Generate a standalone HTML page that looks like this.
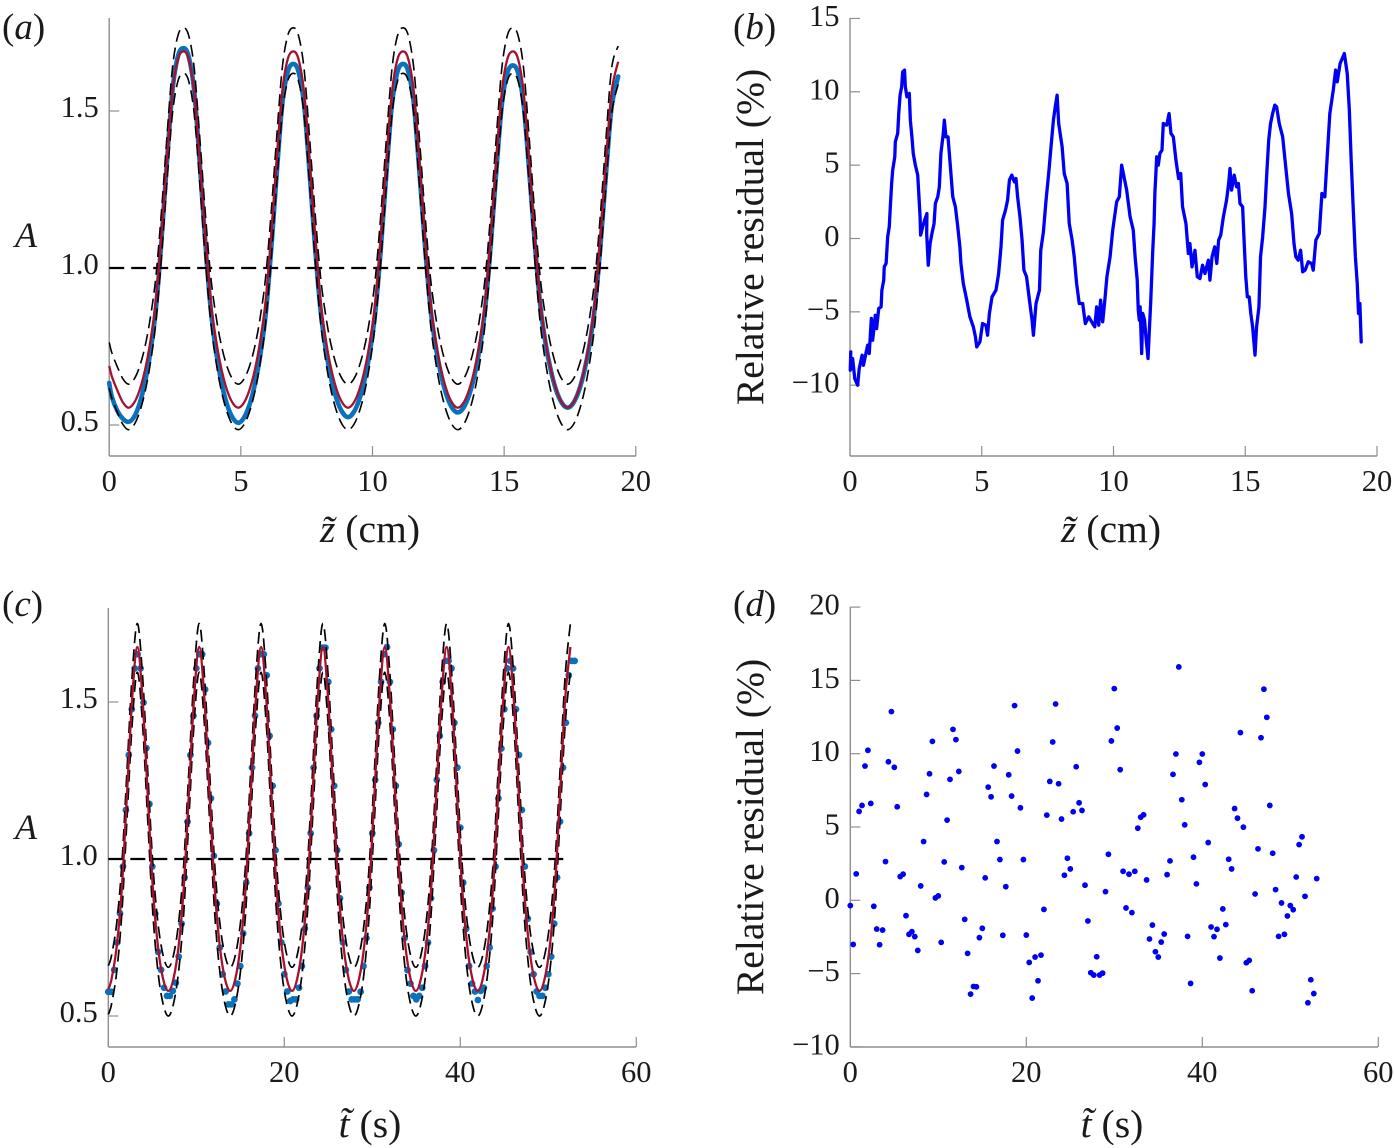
<!DOCTYPE html>
<html lang="en">
<head>
<meta charset="utf-8">
<title>Amplitude profiles and relative residuals</title>
<style>
html,body{margin:0;padding:0;background:#fff;width:1395px;height:1148px;overflow:hidden}
svg{display:block;font-family:"Liberation Serif","DejaVu Serif",serif;fill:#1a1a1a}
text{fill:#1a1a1a}
.tick{font-size:30.5px}
.title{font-size:39.6px}
.panel{font-size:37px}
.it{font-style:italic}
</style>
</head>
<body>
<svg id="figure" width="1395" height="1148" viewBox="0 0 1395 1148" xmlns="http://www.w3.org/2000/svg">
  <text class="panel" x="2" y="39">(<tspan class="it">a</tspan>)</text>
  <text class="panel" x="733" y="39">(<tspan class="it">b</tspan>)</text>
  <text class="panel" x="2" y="616">(<tspan class="it">c</tspan>)</text>
  <text class="panel" x="733" y="616">(<tspan class="it">d</tspan>)</text>
  <text class="title it" x="15" y="247" style="font-size:36px">A</text>
  <text class="title it" x="15" y="839" style="font-size:36px">A</text>
  <text class="title" x="370" y="542" text-anchor="middle"><tspan class="it">z̃</tspan> (cm)</text>
  <text class="title" x="1111" y="542" text-anchor="middle"><tspan class="it">z̃</tspan> (cm)</text>
  <text class="title" x="370" y="1137" text-anchor="middle"><tspan class="it">t̃</tspan> (s)</text>
  <text class="title" x="1112" y="1137" text-anchor="middle"><tspan class="it">t̃</tspan> (s)</text>
  <text class="title" transform="translate(763,237) rotate(-90)" text-anchor="middle">Relative residual (%)</text>
  <text class="title" transform="translate(763,827) rotate(-90)" text-anchor="middle">Relative residual (%)</text>
</svg>
<script>
const aXTicks=[0,5,10,15,20];
const aYTicks=[0.5,1.0,1.5];
const bXTicks=[0,5,10,15,20];
const bYTicks=[-10,-5,0,5,10,15];
const cXTicks=[0,20,40,60];
const cYTicks=[0.5,1.0,1.5];
const dXTicks=[0,20,40,60];
const dYTicks=[-10,-5,0,5,10,15,20];

const aZ=[0,.10,.31,.52,.73,.94,1.15,1.36,1.56,1.77,1.98,2.19,2.40,2.61,2.82,3.02,3.23,3.44,3.65,3.86,4.07,4.27,4.48,4.69,4.90,5.11,5.32,5.53,5.73,5.94,6.15,6.36,6.57,6.78,6.99,7.19,7.40,7.61,7.82,8.03,8.24,8.44,8.65,8.86,9.07,9.28,9.49,9.70,9.90,10.11,10.32,10.53,10.74,10.95,11.16,11.36,11.57,11.78,11.99,12.20,12.41,12.61,12.82,13.03,13.24,13.45,13.66,13.87,14.07,14.28,14.49,14.70,14.91,15.12,15.33,15.53,15.74,15.95,16.16,16.37,16.58,16.78,16.99,17.20,17.41,17.62,17.83,18.04,18.24,18.45,18.66,18.87,19.08,19.33];
const aFit=[.688,.655,.61,.572,
.555,.57,.61,.675,.765,.895,1.10,1.34,1.56,1.665,1.69,1.665,1.56,1.34,1.10,.895,.765,.675,.61,.57,
.555,.57,.61,.675,.765,.895,1.10,1.34,1.56,1.665,1.69,1.665,1.56,1.34,1.10,.895,.765,.675,.61,.57,
.555,.57,.61,.675,.765,.895,1.10,1.34,1.56,1.665,1.69,1.665,1.56,1.34,1.10,.895,.765,.675,.61,.57,
.555,.57,.61,.675,.765,.895,1.10,1.34,1.56,1.665,1.69,1.665,1.56,1.34,1.10,.895,.765,.675,.61,.57,
.555,.57,.61,.675,.765,.895,1.10,1.34,1.56,1.657];
const aUpper=[.763,.73,.685,.647,
.63,.645,.685,.75,.84,.97,1.175,1.415,1.635,1.74,1.765,1.74,1.635,1.415,1.175,.97,.84,.75,.685,.645,
.63,.645,.685,.75,.84,.97,1.175,1.415,1.635,1.74,1.765,1.74,1.635,1.415,1.175,.97,.84,.75,.685,.645,
.63,.645,.685,.75,.84,.97,1.175,1.415,1.635,1.74,1.765,1.74,1.635,1.415,1.175,.97,.84,.75,.685,.645,
.63,.645,.685,.75,.84,.97,1.175,1.415,1.635,1.74,1.765,1.74,1.635,1.415,1.175,.97,.84,.75,.685,.645,
.63,.645,.685,.75,.84,.97,1.175,1.415,1.635,1.707];
const aLower=[.618,.585,.54,.502,
.485,.50,.54,.605,.695,.825,1.03,1.27,1.49,1.595,1.62,1.595,1.49,1.27,1.03,.825,.695,.605,.54,.50,
.485,.50,.54,.605,.695,.825,1.03,1.27,1.49,1.595,1.62,1.595,1.49,1.27,1.03,.825,.695,.605,.54,.50,
.485,.50,.54,.605,.695,.825,1.03,1.27,1.49,1.595,1.62,1.595,1.49,1.27,1.03,.825,.695,.605,.54,.50,
.485,.50,.54,.605,.695,.825,1.03,1.27,1.49,1.595,1.62,1.595,1.49,1.27,1.03,.825,.695,.605,.54,.50,
.485,.50,.54,.605,.695,.825,1.03,1.27,1.49,1.585];
const aMeasured=[.634,.59,.545,.52,
.51,.525,.567,.636,.73,.867,1.081,1.333,1.563,1.674,1.70,1.673,1.563,1.333,1.08,.865,.728,.633,.564,.523,
.507,.522,.562,.628,.718,.85,1.056,1.298,1.519,1.625,1.65,1.625,1.521,1.304,1.065,.863,.733,.644,.579,.54,
.525,.54,.579,.644,.733,.863,1.065,1.304,1.521,1.625,1.65,1.625,1.522,1.308,1.073,.873,.745,.658,.593,.554,
.54,.554,.593,.657,.744,.872,1.072,1.305,1.518,1.621,1.645,1.621,1.52,1.31,1.082,.882,.757,.671,.607,.569,
.555,.569,.607,.67,.755,.879,1.073,1.302,1.511,1.61];

const bZ=[.03,.01,.10,.18,.29,.35,.46,.51,.67,.73,.81,.86,.96,1.01,1.09,1.18,1.21,1.28,1.30,1.37,1.43,1.49,1.53,1.58,1.62,1.70,1.72,1.81,1.85,1.90,1.96,2.00,2.07,2.10,2.16,2.25,2.29,2.35,2.40,2.48,2.57,2.61,2.66,2.68,2.76,2.83,2.92,2.91,2.97,3.04,3.11,3.19,3.24,3.33,3.39,3.45,3.54,3.58,3.64,3.72,3.80,3.90,4.00,4.09,4.17,4.21,4.30,4.43,4.55,4.68,4.76,4.81,4.93,5.03,5.16,5.22,5.29,5.39,5.54,5.64,5.73,5.79,5.90,5.98,6.05,6.14,6.24,6.30,6.36,6.45,6.53,6.60,6.70,6.81,6.91,6.96,7.06,7.19,7.24,7.34,7.44,7.54,7.64,7.72,7.79,7.86,7.92,8.05,8.13,8.24,8.32,8.43,8.51,8.60,8.70,8.83,8.93,9.06,9.21,9.29,9.36,9.44,9.51,9.59,9.66,9.75,9.87,9.97,10.12,10.22,10.31,10.40,10.50,10.63,10.75,10.82,10.90,10.94,10.98,11.01,11.07,11.11,11.18,11.23,11.31,11.36,11.41,11.47,11.49,11.54,11.57,11.64,11.70,11.76,11.84,11.89,12.02,12.11,12.18,12.27,12.37,12.47,12.55,12.62,12.75,12.84,12.90,12.98,13.09,13.18,13.28,13.38,13.47,13.60,13.66,13.74,13.84,13.92,13.99,14.07,14.17,14.29,14.37,14.42,14.48,14.58,14.67,14.74,14.80,14.90,14.95,15.02,15.08,15.15,15.21,15.28,15.37,15.43,15.52,15.58,15.66,15.75,15.81,15.89,15.96,16.04,16.12,16.19,16.29,16.42,16.51,16.64,16.76,16.85,16.92,17.01,17.10,17.18,17.27,17.39,17.52,17.58,17.68,17.81,17.91,18.02,18.11,18.21,18.34,18.43,18.49,18.60,18.76,18.87,18.95,19.02,19.10,19.18,19.25,19.30,19.35,19.40];
const bResidual=[-7.73,-8.98,-8.18,-9.55,-10.0,-8.86,-7.95,-8.64,-7.27,-7.84,-5.45,-6.93,-5.23,-6.14,-4.77,-4.66,-3.52,-2.84,-1.93,-1.70,.11,.80,2.16,3.75,4.66,5.57,6.59,7.16,8.52,9.77,10.34,11.36,11.48,10.34,9.66,9.89,8.07,6.93,5.80,5.00,4.32,3.07,1.48,.23,.80,1.25,1.70,.34,-1.82,-.34,.34,1.02,2.39,2.84,3.52,5.80,7.16,8.07,6.93,6.93,5.11,2.84,2.16,.80,-.57,-1.70,-3.07,-4.20,-5.34,-6.02,-6.70,-7.39,-7.05,-5.80,-5.91,-6.59,-5.11,-3.98,-3.52,-2.39,-.57,1.25,1.93,2.61,3.98,4.32,3.86,4.09,2.84,1.48,-.11,-2.16,-2.61,-4.20,-5.57,-6.59,-4.43,-3.52,-.80,.45,2.61,4.43,6.48,8.07,8.98,9.77,7.84,6.25,4.43,3.75,1.02,-.11,-1.25,-3.07,-4.43,-4.43,-5.80,-5.34,-5.80,-6.02,-4.66,-5.91,-4.20,-5.68,-4.43,-2.61,-1.25,.57,2.50,2.84,5.00,4.20,3.30,1.48,.57,-1.25,-2.84,-4.89,-5.57,-4.66,-7.84,-5.11,-5.57,-6.70,-8.18,-6.25,-4.43,-1.70,-.80,1.02,3.07,5.57,5.00,5.80,6.02,7.84,7.73,8.52,7.16,6.93,5.34,4.09,4.43,2.16,1.02,-1.02,-.34,-1.93,-.80,-2.61,-2.73,-1.82,-2.39,-1.48,-2.84,-1.25,-.57,-1.70,-.11,.23,1.48,2.61,3.75,4.77,3.30,4.32,3.52,3.75,2.39,2.16,.11,-2.61,-3.98,-3.98,-5.11,-6.02,-7.95,-6.02,-4.66,-1.25,.11,2.16,4.20,6.70,7.84,8.52,9.09,8.98,7.84,6.93,5.34,3.07,1.70,-.34,-1.25,-1.48,-.80,-2.27,-2.16,-1.59,-1.70,-2.16,-.11,.34,3.07,2.84,5.57,8.52,10.11,11.48,10.68,11.93,12.61,11.25,8.75,5.34,1.93,-1.25,-3.07,-5.11,-4.43,-7.05];

const cCurveT=[0,.37,.96,1.54,2.13,2.71,3.30,3.89,4.47,5.06,5.64,6.23,6.82,7.40,7.99,8.57,9.16,9.74,10.33,10.92,11.50,12.09,12.67,13.26,13.85,14.43,15.02,15.60,16.19,16.77,17.36,17.95,18.53,19.12,19.70,20.29,20.88,21.46,22.05,22.63,23.22,23.80,24.39,24.98,25.56,26.15,26.73,27.32,27.91,28.49,29.08,29.66,30.25,30.83,31.42,32.01,32.59,33.18,33.76,34.35,34.94,35.52,36.11,36.69,37.28,37.86,38.45,39.04,39.62,40.21,40.79,41.38,41.97,42.55,43.14,43.72,44.31,44.89,45.48,46.07,46.65,47.24,47.82,48.41,49.00,49.58,50.17,50.75,51.34,51.92,52.51];
const cFit=[.585,.618,.722,.908,1.21,1.51,1.675,1.51,1.21,.908,.722,.618,
.58,.618,.722,.908,1.21,1.51,1.675,1.51,1.21,.908,.722,.618,
.58,.618,.722,.908,1.21,1.51,1.675,1.51,1.21,.908,.722,.618,
.58,.618,.722,.908,1.21,1.51,1.675,1.51,1.21,.908,.722,.618,
.58,.618,.722,.908,1.21,1.51,1.675,1.51,1.21,.908,.722,.618,
.58,.618,.722,.908,1.21,1.51,1.675,1.51,1.21,.908,.722,.618,
.58,.618,.722,.908,1.21,1.51,1.675,1.51,1.21,.908,.722,.618,
.58,.618,.722,.908,1.21,1.51,1.675];
const cUpper=[.66,.693,.797,.983,1.285,1.585,1.75,1.585,1.285,.983,.797,.693,
.655,.693,.797,.983,1.285,1.585,1.75,1.585,1.285,.983,.797,.693,
.655,.693,.797,.983,1.285,1.585,1.75,1.585,1.285,.983,.797,.693,
.655,.693,.797,.983,1.285,1.585,1.75,1.585,1.285,.983,.797,.693,
.655,.693,.797,.983,1.285,1.585,1.75,1.585,1.285,.983,.797,.693,
.655,.693,.797,.983,1.285,1.585,1.75,1.585,1.285,.983,.797,.693,
.655,.693,.797,.983,1.285,1.585,1.75,1.585,1.285,.983,.797,.693,
.655,.693,.797,.983,1.285,1.585,1.75];
const cLower=[.505,.538,.642,.828,1.13,1.43,1.595,1.43,1.13,.828,.642,.538,
.50,.538,.642,.828,1.13,1.43,1.595,1.43,1.13,.828,.642,.538,
.50,.538,.642,.828,1.13,1.43,1.595,1.43,1.13,.828,.642,.538,
.50,.538,.642,.828,1.13,1.43,1.595,1.43,1.13,.828,.642,.538,
.50,.538,.642,.828,1.13,1.43,1.595,1.43,1.13,.828,.642,.538,
.50,.538,.642,.828,1.13,1.43,1.595,1.43,1.13,.828,.642,.538,
.50,.538,.642,.828,1.13,1.43,1.595,1.43,1.13,.828,.642,.538,
.50,.538,.642,.828,1.13,1.43,1.595];

const sampleTimes=[0,.33,.67,1,1.33,1.67,2,2.33,2.67,3,3.33,3.67,4,4.33,4.67,5,5.33,5.67,6,6.33,6.67,7,7.33,7.67,8,8.33,8.67,9,9.33,9.67,10,10.33,10.67,11,11.33,11.67,12,12.33,12.67,13,13.33,13.67,14,14.33,14.67,15,15.33,15.67,16,16.33,16.67,17,17.33,17.67,18,18.33,18.67,19,19.33,19.67,20,20.33,20.67,21,21.33,21.67,22,22.33,22.67,23,23.33,23.67,24,24.33,24.67,25,25.33,25.67,26,26.33,26.67,27,27.33,27.67,28,28.33,28.67,29,29.33,29.67,30,30.33,30.67,31,31.33,31.67,32,32.33,32.67,33,33.33,33.67,34,34.33,34.67,35,35.33,35.67,36,36.33,36.67,37,37.33,37.67,38,38.33,38.67,39,39.33,39.67,40,40.33,40.67,41,41.33,41.67,42,42.33,42.67,43,43.33,43.67,44,44.33,44.67,45,45.33,45.67,46,46.33,46.67,47,47.33,47.67,48,48.33,48.67,49,49.33,49.67,50,50.33,50.67,51,51.33,51.67,52,52.33,52.67,53];
const cMeasured=[.577,.577,.647,.734,.827,.976,1.156,1.331,1.477,1.607,1.652,1.607,1.498,1.353,1.175,.976,.826,.704,.647,.590,.564,.564,.580,.606,.689,.794,.941,1.119,1.331,1.456,1.607,1.652,1.652,1.540,1.370,1.193,1.010,.858,.718,.633,.578,.537,.537,.553,.603,.659,.763,.925,1.082,1.291,1.456,1.607,1.652,1.652,1.585,1.392,1.233,1.028,.858,.734,.633,.578,.548,.553,.553,.590,.659,.778,.909,1.082,1.291,1.456,1.607,1.673,1.673,1.564,1.413,1.233,1.028,.875,.734,.647,.578,.553,.553,.553,.577,.659,.748,.909,1.082,1.252,1.434,1.564,1.652,1.675,1.564,1.413,1.233,1.047,.893,.748,.646,.603,.564,.553,.564,.590,.659,.734,.875,1.028,1.252,1.392,1.564,1.631,1.631,1.607,1.434,1.291,1.100,.925,.778,.659,.603,.578,.551,.580,.590,.659,.718,.842,.976,1.193,1.352,1.477,1.607,1.631,1.607,1.477,1.331,1.156,.976,.810,.704,.633,.578,.564,.564,.590,.633,.689,.794,.941,1.119,1.291,1.434,1.585,1.631,1.631];
const dResidual=[-.36,-3.01,1.80,6.06,6.47,9.16,10.23,6.61,-.41,-1.96,-3.03,-2.03,2.64,9.45,12.87,9.07,6.38,1.62,1.78,-1.05,-2.32,-2.14,-2.48,-3.42,.98,4.01,7.22,8.63,10.84,.16,.30,-2.87,2.62,5.47,8.25,11.66,10.96,8.79,2.23,-1.30,-3.62,-6.40,-5.88,-5.90,-2.55,-1.91,1.53,7.72,7.06,9.16,4.01,2.78,-2.39,.93,8.56,7.11,13.28,10.18,6.31,2.78,-2.37,-4.24,-6.67,-3.87,-5.49,-3.74,-.62,5.81,8.11,10.80,13.39,7.95,5.54,1.71,2.87,2.14,6.04,9.11,6.65,6.13,1.03,-1.41,-4.94,-5.10,-3.85,-5.10,-4.97,.59,3.14,10.87,14.44,11.75,8.91,1.98,-.52,1.78,-.84,1.98,4.92,5.67,5.83,1.39,-2.64,-1.69,-3.51,-3.87,-2.85,-2.30,1.75,2.69,8.59,9.98,15.92,6.86,5.15,-2.46,-5.67,2.94,1.12,9.41,9.98,7.90,3.94,-1.82,-2.48,-1.98,-3.94,-.59,-1.66,2.80,2.14,6.26,5.60,11.44,4.99,-4.26,-4.10,-6.17,.43,3.51,11.09,14.40,12.48,6.47,3.21,.73,-2.46,-.18,-2.32,-1.07,-.36,-.64,1.59,3.80,4.33,.27,-6.99,-5.42,-6.36,1.48];

const NS='http://www.w3.org/2000/svg';
const root=document.getElementById('figure');
const AXIS='#8e8e8e', BLUE='#0a72bd', RED='#a5122f', PURE='#0000f5';

const aX=v=>109.2+26.33*v, aY=v=>425-314*(v-0.5);
const bX=v=>850+26.35*v, bY=v=>238.5-14.67*v;
const cX=v=>108.3+8.8*v, cY=v=>1016-314*(v-0.5);
const dX=v=>850.3+8.8*v, dY=v=>900.3-14.66*v;

function make(tag,parent,attrs){
  const e=document.createElementNS(NS,tag);
  for(const k in attrs)e.setAttribute(k,attrs[k]);
  parent.appendChild(e);
  return e;
}
function smooth(xs,ys,sx,sy){
  const p=xs.map((x,i)=>[sx(x),sy(ys[i])]);
  let d='M'+p[0][0].toFixed(2)+' '+p[0][1].toFixed(2);
  for(let i=0;i<p.length-1;i++){
    const a=p[Math.max(i-1,0)],b=p[i],c=p[i+1],e=p[Math.min(i+2,p.length-1)];
    d+='C'+(b[0]+(c[0]-a[0])/6).toFixed(2)+' '+(b[1]+(c[1]-a[1])/6).toFixed(2)+' '+(c[0]-(e[0]-b[0])/6).toFixed(2)+' '+(c[1]-(e[1]-b[1])/6).toFixed(2)+' '+c[0].toFixed(2)+' '+c[1].toFixed(2);
  }
  return d;
}
function label(v,dec){
  const s=dec?v.toFixed(1):String(Math.abs(v));
  return (v<0?'\u2212':'')+s;
}
function axes(id,sx,sy,xTicks,yTicks,x0,yTop,yBottom,xEnd,dec,xBase){
  const g=make('g',root,{});
  
  
  const yLine=make('line',g,{x1:x0,x2:x0,y1:yTop,y2:yBottom,stroke:AXIS,'stroke-width':1.4});
  
  
  const xLine=make('line',g,{x1:x0,x2:xEnd,y1:yBottom,y2:yBottom,stroke:AXIS,'stroke-width':1.4});
  
  
  xTicks.forEach(v=>{
    const px=sx(v);
    if(v!==0){
      const t=make('line',g,{x1:px,x2:px,y1:yBottom,y2:yBottom-10,stroke:AXIS,'stroke-width':1.2});
      
      
    }
    const l=make('text',g,{x:px,y:xBase,'text-anchor':'middle','class':'tick'});
    
    
    l.textContent=label(v,false);
  });
  yTicks.forEach(v=>{
    const py=sy(v);
    const t=make('line',g,{x1:x0,x2:x0+10,y1:py,y2:py,stroke:AXIS,'stroke-width':1.2});
    
    
    const l=make('text',g,{x:x0-10.5,y:py+(dec?6:7.5),'text-anchor':'end','class':'tick'});
    
    
    l.textContent=label(v,dec);
  });
}
function curve(xs,ys,sx,sy,attrs){
  return make('path',root,Object.assign({d:smooth(xs,ys,sx,sy),fill:'none','stroke-linejoin':'round'},attrs));
}

axes('a',aX,aY,aXTicks,aYTicks,109.2,18,456,636,true,491);
axes('b',bX,bY,bXTicks,bYTicks,850,18,456,1377,false,491);
axes('c',cX,cY,cXTicks,cYTicks,108.3,608,1047,636,true,1082);
axes('d',dX,dY,dXTicks,dYTicks,850.3,607,1047,1378,false,1082);

const aBlue=curve(aZ,aMeasured,aX,aY,{stroke:BLUE,'stroke-width':4.6,'stroke-linecap':'round'});


const aUp=curve(aZ,aUpper,aX,aY,{stroke:'#000','stroke-width':1.6,'stroke-dasharray':'12 6'});


const aLow=curve(aZ,aLower,aX,aY,{stroke:'#000','stroke-width':1.6,'stroke-dasharray':'12 6'});


const aRef=make('line',root,{x1:aX(0),x2:aX(19.15),y1:aY(1),y2:aY(1),stroke:'#000','stroke-width':2.2,'stroke-dasharray':'15 7'});


const aRed=curve(aZ,aFit,aX,aY,{stroke:RED,'stroke-width':2.3});



const bTrace=make('path',root,{d:'M'+bZ.map((z,i)=>bX(z).toFixed(2)+' '+bY(bResidual[i]).toFixed(2)).join('L'),fill:'none',stroke:PURE,'stroke-width':3.3,'stroke-linejoin':'round','stroke-linecap':'round'});



sampleTimes.forEach((t,i)=>{
  const dot=make('circle',root,{cx:cX(t),cy:cY(cMeasured[i]),r:3.4,fill:BLUE});
  
  
});
const cUp=curve(cCurveT,cUpper,cX,cY,{stroke:'#000','stroke-width':1.7,'stroke-dasharray':'12 6'});


const cLow=curve(cCurveT,cLower,cX,cY,{stroke:'#000','stroke-width':1.7,'stroke-dasharray':'12 6'});


const cRef=make('line',root,{x1:cX(0),x2:cX(52.2),y1:cY(1),y2:cY(1),stroke:'#000','stroke-width':2.2,'stroke-dasharray':'15 7'});


const cRed=curve(cCurveT,cFit,cX,cY,{stroke:RED,'stroke-width':2.3});



sampleTimes.forEach((t,i)=>{
  const dot=make('circle',root,{cx:dX(t),cy:dY(dResidual[i]),r:2.9,fill:PURE});
  
  
});
</script>
</body>
</html>
